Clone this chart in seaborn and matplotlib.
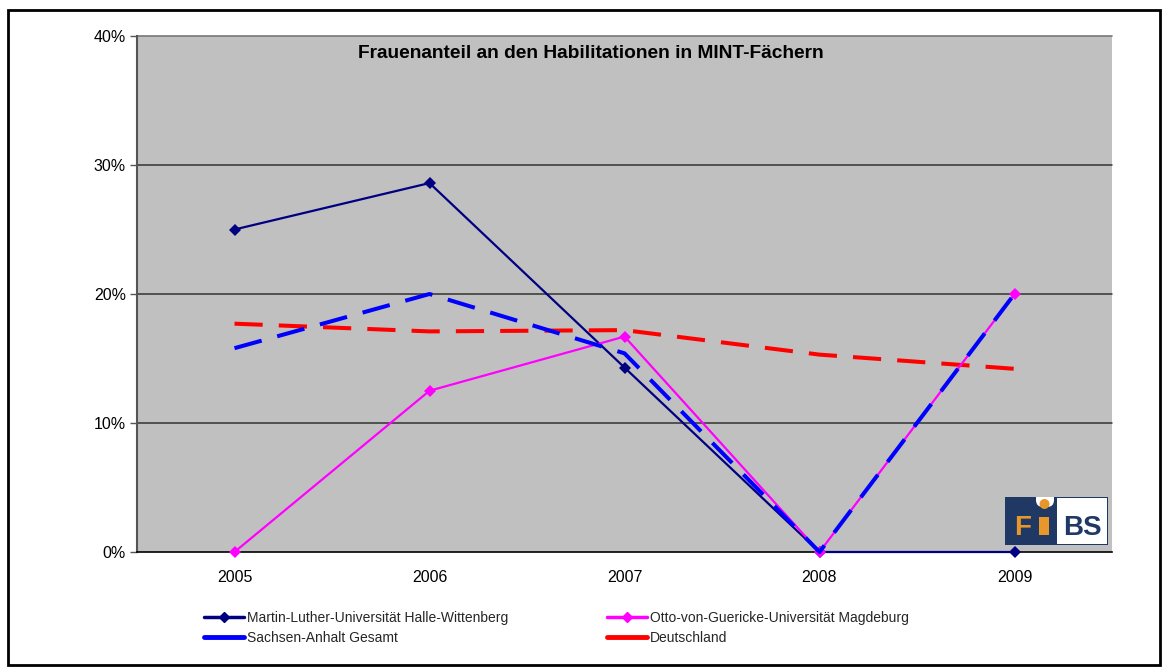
import matplotlib
matplotlib.use("Agg")
import matplotlib.pyplot as plt
import seaborn as sns
import pandas as pd
from matplotlib.lines import Line2D
from matplotlib.patches import Rectangle, Circle, FancyBboxPatch
from matplotlib.ticker import FixedLocator, PercentFormatter

# data (percent)
years = ["2005", "2006", "2007", "2008", "2009"]
mlu = [25.0, 28.6, 14.3, 0.0, 0.0]
ovgu = [0.0, 12.5, 16.7, 0.0, 20.0]
sachsen_anhalt = [15.8, 20.0, 15.4, 0.0, 20.0]
deutschland = [17.7, 17.1, 17.2, 15.3, 14.2]

labels = ["Martin-Luther-Universität Halle-Wittenberg",
          "Otto-von-Guericke-Universität Magdeburg",
          "Sachsen-Anhalt Gesamt",
          "Deutschland"]
title = "Frauenanteil an den Habilitationen in MINT-Fächern"

sns.set_theme(style="white")
plt.rcParams['font.family'] = ['Liberation Sans', 'DejaVu Sans']

W, H = 1169, 672
fig = plt.figure(figsize=(W / 100, H / 100), dpi=100)
ax = fig.add_axes([137 / W, 1 - 552 / H, (1112 - 137) / W, (552 - 36) / H])
ax.set_facecolor("#C0C0C0")

x = list(range(len(years)))
df = pd.DataFrame({"x": x, "mlu": mlu, "ovgu": ovgu,
                   "sa": sachsen_anhalt, "de": deutschland})

# gridlines
for v in [10, 20, 30]:
    ax.axhline(v, color="#333333", lw=1.1, zorder=1)

dash = (7, 4)
sns.lineplot(data=df, x="x", y="de", ax=ax, color="#FF0000", lw=2.9,
             dashes=dash, zorder=3)
sns.lineplot(data=df, x="x", y="mlu", ax=ax, color="#000080", lw=1.6,
             marker="D", markersize=6, markeredgewidth=0, zorder=4)
sns.lineplot(data=df, x="x", y="ovgu", ax=ax, color="#FF00FF", lw=1.6,
             marker="D", markersize=6, markeredgewidth=0, zorder=5)
sns.lineplot(data=df, x="x", y="sa", ax=ax, color="#0000FF", lw=2.9,
             dashes=dash, zorder=6)
for line in ax.get_lines():
    line.set_clip_on(False)

ax.set_xlim(-0.5, len(years) - 0.5)
ax.set_ylim(0, 40)
ax.set_yticks([0, 10, 20, 30, 40])
ax.yaxis.set_major_formatter(PercentFormatter(decimals=0))
ax.set_xticks(x)
ax.set_xticklabels(years)
ax.xaxis.set_minor_locator(FixedLocator([i + 0.5 for i in range(-1, len(years))]))
ax.tick_params(axis="x", which="major", length=0, pad=13, labelsize=11.5, colors="black")
ax.tick_params(axis="x", which="minor", length=6, width=1, color="#333333", direction="out")
ax.tick_params(axis="y", length=5, width=1, color="#555555", direction="out",
               labelsize=11.5, labelcolor="black", pad=3, left=True)
ax.set_xlabel("")
ax.set_ylabel("")
for s in ["top", "right"]:
    ax.spines[s].set_visible(False)
ax.spines["left"].set_color("#555555")
ax.spines["left"].set_linewidth(1.5)
ax.spines["bottom"].set_color("black")
ax.spines["bottom"].set_linewidth(1.2)
ax.plot([-0.5, 4.5], [40, 40], color="#777777", lw=1.2, clip_on=False, zorder=2)

ax.text((591 - 137) / 975, 1 - 17 / 516, title, transform=ax.transAxes,
        ha="center", va="center", fontsize=13.8, fontweight="bold", color="black")

# legend, two columns
h_mlu = Line2D([], [], color="#000080", lw=2.5, marker="D", markersize=5)
h_ovgu = Line2D([], [], color="#FF00FF", lw=2.5, marker="D", markersize=5)
h_sa = Line2D([], [], color="#0000FF", lw=3.5)
h_de = Line2D([], [], color="#FF0000", lw=3.5)
leg_kw = dict(loc="upper left", frameon=False, fontsize=10, handlelength=2.9,
              handletextpad=0.25, labelspacing=0.45, borderaxespad=0)
leg1 = fig.legend([h_mlu, h_sa], [labels[0], labels[2]],
                  bbox_to_anchor=(198 / W, 1 - 605 / H), **leg_kw)
leg2 = fig.legend([h_ovgu, h_de], [labels[1], labels[3]],
                  bbox_to_anchor=(601 / W, 1 - 605 / H), **leg_kw)

# FiBS logo, drawn in its own pixel-sized axes (y pointing down)
navy = "#1F3864"
orange = "#E8972A"
lax = fig.add_axes([1005 / W, 1 - 545 / H, 103 / W, 48 / H])
lax.set_xlim(0, 103)
lax.set_ylim(48, 0)
lax.axis("off")
lax.add_patch(Rectangle((0, 0), 103, 48, facecolor=navy, edgecolor="none"))
lax.add_patch(Rectangle((52, 1), 50, 46, facecolor="white", edgecolor="none"))
lax.add_patch(FancyBboxPatch((31, -6), 18, 16, boxstyle="round,pad=0,rounding_size=7",
                             facecolor="white", edgecolor="none"))
lax.add_patch(Circle((39.5, 7), 5, facecolor=orange, edgecolor="none"))
lax.add_patch(Rectangle((34, 20), 10, 18, facecolor=orange, edgecolor="none"))
lax.text(18, 38, "F", ha="center", va="baseline", fontsize=20,
         fontweight="bold", color=orange)
lax.text(77, 38, "BS", ha="center", va="baseline", fontsize=20,
         fontweight="bold", color=navy)

# outer frame
fig.patches.append(Rectangle((8 / W, 1 - 665 / H), 1152 / W, 655 / H,
                             transform=fig.transFigure, fill=False,
                             edgecolor="black", lw=2))

fig.savefig("out.png", dpi=100)
